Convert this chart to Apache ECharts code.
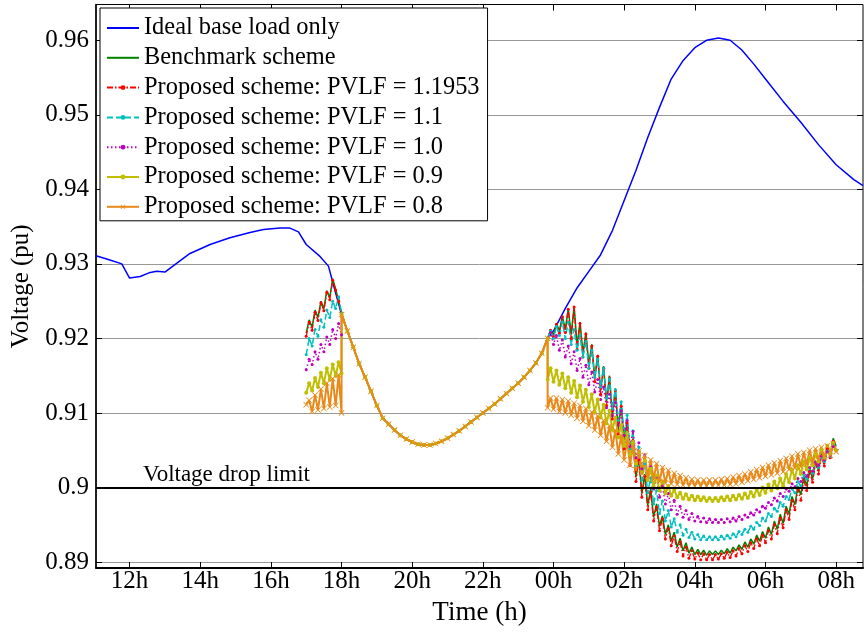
<!DOCTYPE html>
<html><head><meta charset="utf-8">
<script src="https://cdn.jsdelivr.net/npm/echarts@6/dist/echarts.min.js"></script>
<style>html,body{margin:0;padding:0;background:#fff}#c{width:864px;height:632px}</style>
</head><body><div id="c"></div><script>
// ---------- DATA ----------
const seriesNames = ['Ideal base load only','Benchmark scheme','Proposed scheme: PVLF = 1.1953','Proposed scheme: PVLF = 1.1','Proposed scheme: PVLF = 1.0','Proposed scheme: PVLF = 0.9','Proposed scheme: PVLF = 0.8'];
const xTicks = [12,14,16,18,20,22,24,26,28,30,32];
const yTicks = [0.89,0.90,0.91,0.92,0.93,0.94,0.95,0.96];

// Ideal base load: daytime part (hours) and values
const blueDayT = [11.05,11.4,11.78,12.0,12.3,12.55,12.77,13.0,13.34,13.71,14.28,14.84,15.41,15.79,16.26,16.54,16.78,17.0,17.39,17.63,17.77];
const blueDayV = [0.9311,0.9306,0.9300,0.9281,0.9283,0.9288,0.9290,0.9289,0.9301,0.9314,0.9326,0.9335,0.9342,0.9346,0.9348,0.9348,0.9343,0.9326,0.9310,0.9297,0.9272];
// Shared curve 18:00 - 23:50 (10-minute steps)
const commonV = [0.9232,0.9210,0.9188,0.9166,0.9148,0.9129,0.9110,0.9093,0.9085,0.9077,0.9070,0.9065,0.9061,0.9058,0.9057,0.9057,0.9059,0.9062,0.9066,0.9071,0.9076,0.9082,0.9088,0.9094,0.9100,0.9106,0.9112,0.9119,0.9126,0.9133,0.9140,0.9148,0.9157,0.9167,0.9180,0.9200];
// Ideal base load: night part
const blueNightT = [24.0,24.33,24.67,25.0,25.33,25.67,26.0,26.33,26.67,27.0,27.33,27.67,28.0,28.33,28.67,29.0,29.33,29.67,30.0,30.5,31.0,31.5,32.0,32.5,32.76];
const blueNightV = [0.9210,0.9240,0.9268,0.9290,0.9312,0.9345,0.9385,0.9425,0.9470,0.9510,0.9548,0.9573,0.9590,0.9600,0.9603,0.9600,0.9587,0.9568,0.9548,0.9518,0.9490,0.9460,0.9433,0.9413,0.9405];

// Evening window 17:00-18:00 (5-minute steps)
const eveGreen   = [0.9207,0.9225,0.9215,0.9238,0.9228,0.9250,0.9240,0.9264,0.9255,0.9280,0.9266,0.9250,0.9234];
const eveRed     = [0.9203,0.9222,0.9211,0.9235,0.9224,0.9248,0.9237,0.9262,0.9252,0.9278,0.9265,0.9250,0.9234];
const eveCyan    = [0.9178,0.9200,0.9190,0.9212,0.9203,0.9225,0.9215,0.9238,0.9228,0.9250,0.9240,0.9256,0.9234];
const eveMagenta = [0.9158,0.9172,0.9165,0.9182,0.9172,0.9192,0.9182,0.9202,0.9192,0.9212,0.9200,0.9220,0.9205];
const eveYellow  = [0.9127,0.9140,0.9130,0.9147,0.9135,0.9154,0.9140,0.9160,0.9145,0.9165,0.9150,0.9168,0.9153];
const eveOrange  = [0.9111,0.9117,0.9102,0.9124,0.9104,0.9132,0.9106,0.9140,0.9108,0.9146,0.9110,0.9151,0.9100];

// Night window: lows every 10 min from 23:50, highs 5 min later
const greenLo = [0.9200,0.9204,0.9210,0.9212,0.9205,0.9190,0.9180,0.9165,0.9147,0.9130,0.9115,0.9097,0.9078,0.9058,0.9036,0.9014,0.8992,0.8976,0.8960,0.8948,0.8937,0.8928,0.8920,0.8915,0.8912,0.8910,0.8910,0.8909,0.8910,0.8910,0.8911,0.8912,0.8915,0.8917,0.8920,0.8924,0.8928,0.8932,0.8937,0.8944,0.8952,0.8964,0.8977,0.8990,0.9002,0.9012,0.9022,0.9033,0.9044,0.9055];
const greenHi = [0.9212,0.9220,0.9230,0.9240,0.9243,0.9222,0.9208,0.9192,0.9178,0.9163,0.9150,0.9133,0.9112,0.9090,0.9066,0.9040,0.9018,0.8998,0.8978,0.8962,0.8950,0.8940,0.8932,0.8926,0.8920,0.8917,0.8916,0.8915,0.8915,0.8916,0.8918,0.8920,0.8923,0.8927,0.8931,0.8936,0.8941,0.8947,0.8955,0.8964,0.8975,0.8988,0.9002,0.9015,0.9026,0.9036,0.9046,0.9056,0.9066];
const redLo = [0.9200,0.9202,0.9207,0.9208,0.9200,0.9185,0.9175,0.9160,0.9142,0.9125,0.9110,0.9092,0.9072,0.9052,0.9030,0.9008,0.8987,0.8970,0.8955,0.8942,0.8931,0.8922,0.8914,0.8908,0.8905,0.8904,0.8903,0.8903,0.8903,0.8904,0.8905,0.8906,0.8908,0.8911,0.8914,0.8918,0.8922,0.8926,0.8931,0.8938,0.8946,0.8957,0.8970,0.8983,0.8996,0.9007,0.9018,0.9029,0.9040,0.9050];
const redHi = [0.9211,0.9219,0.9229,0.9239,0.9242,0.9220,0.9206,0.9190,0.9176,0.9160,0.9147,0.9130,0.9109,0.9087,0.9063,0.9037,0.9015,0.8994,0.8974,0.8958,0.8945,0.8935,0.8927,0.8920,0.8915,0.8912,0.8911,0.8910,0.8910,0.8911,0.8913,0.8915,0.8918,0.8922,0.8926,0.8931,0.8936,0.8942,0.8950,0.8959,0.8970,0.8983,0.8997,0.9010,0.9021,0.9032,0.9042,0.9052,0.9062];
const cyanLo = [0.9200,0.9200,0.9204,0.9200,0.9192,0.9184,0.9175,0.9160,0.9148,0.9135,0.9120,0.9106,0.9090,0.9072,0.9052,0.9030,0.9010,0.8993,0.8978,0.8965,0.8955,0.8947,0.8940,0.8936,0.8933,0.8931,0.8930,0.8930,0.8930,0.8930,0.8931,0.8932,0.8934,0.8937,0.8940,0.8944,0.8949,0.8955,0.8961,0.8968,0.8975,0.8984,0.8993,0.9002,0.9011,0.9019,0.9027,0.9035,0.9042,0.9050];
const cyanHi = [0.9210,0.9216,0.9222,0.9222,0.9212,0.9204,0.9196,0.9184,0.9172,0.9160,0.9146,0.9131,0.9115,0.9097,0.9076,0.9054,0.9032,0.9013,0.8996,0.8982,0.8969,0.8958,0.8950,0.8944,0.8940,0.8937,0.8935,0.8934,0.8934,0.8935,0.8936,0.8938,0.8941,0.8944,0.8948,0.8953,0.8959,0.8965,0.8972,0.8980,0.8988,0.8998,0.9008,0.9017,0.9026,0.9034,0.9041,0.9049,0.9058];
const magentaLo = [0.9200,0.9192,0.9184,0.9175,0.9166,0.9157,0.9148,0.9138,0.9128,0.9118,0.9107,0.9096,0.9084,0.9070,0.9055,0.9040,0.9025,0.9010,0.8998,0.8987,0.8978,0.8970,0.8964,0.8960,0.8957,0.8955,0.8954,0.8953,0.8953,0.8953,0.8953,0.8954,0.8955,0.8957,0.8960,0.8963,0.8967,0.8972,0.8977,0.8982,0.8988,0.8995,0.9001,0.9008,0.9015,0.9022,0.9030,0.9037,0.9043,0.9050];
const magentaHi = [0.9208,0.9204,0.9198,0.9190,0.9182,0.9173,0.9164,0.9155,0.9145,0.9135,0.9125,0.9114,0.9103,0.9090,0.9075,0.9060,0.9044,0.9028,0.9014,0.9002,0.8992,0.8983,0.8975,0.8969,0.8965,0.8961,0.8959,0.8958,0.8957,0.8957,0.8958,0.8959,0.8961,0.8963,0.8966,0.8970,0.8975,0.8980,0.8986,0.8992,0.8998,0.9005,0.9012,0.9020,0.9027,0.9034,0.9042,0.9048,0.9055];
const yellowLo = [0.9145,0.9142,0.9138,0.9133,0.9127,0.9121,0.9115,0.9108,0.9101,0.9094,0.9086,0.9077,0.9067,0.9056,0.9044,0.9032,0.9020,0.9010,0.9002,0.8996,0.8992,0.8989,0.8987,0.8985,0.8984,0.8983,0.8983,0.8982,0.8982,0.8982,0.8983,0.8983,0.8984,0.8985,0.8986,0.8988,0.8990,0.8993,0.8996,0.8999,0.9002,0.9007,0.9012,0.9018,0.9024,0.9030,0.9035,0.9040,0.9045,0.9050];
const yellowHi = [0.9160,0.9157,0.9153,0.9148,0.9143,0.9137,0.9131,0.9125,0.9118,0.9111,0.9103,0.9094,0.9084,0.9073,0.9061,0.9048,0.9036,0.9025,0.9016,0.9008,0.9002,0.8997,0.8993,0.8991,0.8989,0.8988,0.8987,0.8986,0.8986,0.8987,0.8988,0.8989,0.8990,0.8992,0.8994,0.8997,0.9000,0.9004,0.9008,0.9012,0.9018,0.9024,0.9030,0.9035,0.9040,0.9045,0.9051,0.9056,0.9060];
const orangeLo = [0.9107,0.9105,0.9102,0.9100,0.9097,0.9093,0.9089,0.9083,0.9077,0.9070,0.9062,0.9054,0.9045,0.9037,0.9030,0.9024,0.9019,0.9015,0.9011,0.9008,0.9006,0.9005,0.9004,0.9003,0.9002,0.9002,0.9002,0.9002,0.9002,0.9003,0.9003,0.9004,0.9005,0.9007,0.9009,0.9011,0.9013,0.9015,0.9017,0.9019,0.9021,0.9024,0.9026,0.9028,0.9031,0.9034,0.9037,0.9040,0.9043,0.9048];
const orangeHi = [0.9120,0.9120,0.9118,0.9116,0.9113,0.9110,0.9106,0.9101,0.9096,0.9090,0.9083,0.9077,0.9070,0.9063,0.9056,0.9049,0.9043,0.9037,0.9032,0.9027,0.9023,0.9019,0.9016,0.9013,0.9011,0.9010,0.9010,0.9010,0.9010,0.9011,0.9012,0.9014,0.9016,0.9018,0.9021,0.9024,0.9027,0.9030,0.9033,0.9036,0.9039,0.9042,0.9045,0.9047,0.9050,0.9052,0.9054,0.9056,0.9058];
const limitValue = 0.9;

// ---------- TIME GRIDS ----------
const eveningT = []; for (let i = 0; i < eveGreen.length; i++) eveningT.push(17 + i * 5 / 60);
const commonT = []; for (let i = 0; i < commonV.length; i++) commonT.push(18 + i * 10 / 60);
const nightLoT = []; for (let k = 0; k < greenLo.length; k++) nightLoT.push(23 + 50 / 60 + k * 10 / 60);
const nightHiT = nightLoT.slice(0, greenHi.length).map(t => t + 5 / 60);

function pairs(ts, vs) { return vs.map((v, i) => [ts[i], v]); }
function nightPairs(lo, hi) {
  const out = [];
  for (let k = 0; k < lo.length; k++) { out.push([nightLoT[k], lo[k]]); if (k < hi.length) out.push([nightHiT[k], hi[k]]); }
  return out;
}
function scheme(ev, lo, hi) { return [].concat(pairs(eveningT, ev), pairs(commonT, commonV), nightPairs(lo, hi)); }

const FONT = 'Liberation Serif';
const crossPath = 'path://M0,1L1,0L5,4L9,0L10,1L6,5L10,9L9,10L5,6L1,10L0,9L4,5Z';

const chart = echarts.init(document.getElementById('c'), null, { renderer: 'canvas' });
function base(name, color, data, extra) {
  return Object.assign({
    name, type: 'line', data, animation: false, silent: true,
    symbol: 'none', showSymbol: false,
    lineStyle: { color, width: 1.5 }, itemStyle: { color },
    emphasis: { disabled: true }
  }, extra || {});
}
const hourFmt = v => String(Math.round(v) % 24).padStart(2, '0') + 'h';
const legendData = seriesNames.map((n, i) => i < 2 ? { name: n, itemStyle: { opacity: 0 } } : { name: n });

chart.setOption({
  animation: false,
  backgroundColor: '#fff',
  grid: { left: 96, right: 1, top: 4.5, bottom: 64, show: true, borderColor: '#000', borderWidth: 1, containLabel: false },
  legend: {
    left: 100, top: 8, orient: 'vertical', selectedMode: false,
    backgroundColor: '#fff', borderColor: '#000', borderWidth: 1, borderRadius: 0,
    padding: [8, 8, 2, 6], itemGap: 5.8, itemWidth: 32, itemHeight: 6,
    textStyle: { fontFamily: FONT, fontSize: 24.4, color: '#000', lineHeight: 24 },
    data: legendData
  },
  xAxis: [{
    type: 'value', min: 11.05, max: 32.76, position: 'bottom',
    axisLine: { show: true, onZero: false, lineStyle: { color: '#000', width: 2 } },
    axisTick: { show: true, inside: true, length: 6, customValues: xTicks, lineStyle: { color: '#000' } },
    axisLabel: { customValues: xTicks, formatter: hourFmt, fontFamily: FONT, fontSize: 25, color: '#000', margin: 1 },
    splitLine: { show: false },
    name: 'Time (h)', nameLocation: 'middle', nameGap: 31,
    nameTextStyle: { fontFamily: FONT, fontSize: 27, color: '#000' }
  }, {
    type: 'value', min: 11.05, max: 32.76, position: 'top',
    axisLine: { show: false }, axisLabel: { show: false }, splitLine: { show: false },
    axisTick: { show: true, inside: true, length: 6, customValues: xTicks, lineStyle: { color: '#000' } }
  }],
  yAxis: [{
    type: 'value', min: 0.8892, max: 0.9648, position: 'left',
    axisLine: { show: true, onZero: false, lineStyle: { color: '#000', width: 1.5 } },
    axisTick: { show: true, inside: true, length: 6, customValues: yTicks, lineStyle: { color: '#000' } },
    axisLabel: { customValues: yTicks, formatter: v => String(parseFloat(v.toFixed(2))), fontFamily: FONT, fontSize: 25, color: '#000', margin: 7 },
    splitLine: { show: true, lineStyle: { color: '#999999', width: 1 } },
    name: 'Voltage (pu)', nameLocation: 'middle', nameGap: 60, nameRotate: 90,
    nameTextStyle: { fontFamily: FONT, fontSize: 25, color: '#000' }
  }, {
    type: 'value', min: 0.8892, max: 0.9648, position: 'right',
    axisLine: { show: false }, axisLabel: { show: false }, splitLine: { show: false },
    axisTick: { show: true, inside: true, length: 6, customValues: yTicks, lineStyle: { color: '#000' } }
  }],
  series: [
    base(seriesNames[0], '#0000ff', [].concat(pairs(blueDayT, blueDayV), pairs(commonT, commonV), pairs(blueNightT, blueNightV)), {
      markLine: { silent: true, symbol: 'none', label: { show: false }, lineStyle: { color: '#000', width: 2, type: 'solid' }, data: [{ yAxis: limitValue }] }
    }),
    base(seriesNames[1], '#008000', scheme(eveGreen, greenLo, greenHi)),
    base(seriesNames[2], '#ff0000', scheme(eveRed, redLo, redHi), { symbol: 'circle', showSymbol: true, symbolSize: 3, lineStyle: { color: '#ff0000', width: 1.3, type: [6, 2, 1.5, 2] } }),
    base(seriesNames[3], '#00bfbf', scheme(eveCyan, cyanLo, cyanHi), { symbol: 'circle', showSymbol: true, symbolSize: 3, lineStyle: { color: '#00bfbf', width: 1.5, type: [6, 3] } }),
    base(seriesNames[4], '#bf00bf', scheme(eveMagenta, magentaLo, magentaHi), { symbol: 'circle', showSymbol: true, symbolSize: 3, lineStyle: { color: '#bf00bf', width: 1.5, type: [1.5, 2.5] } }),
    base(seriesNames[5], '#bfbf00', scheme(eveYellow, yellowLo, yellowHi), { symbol: 'circle', showSymbol: true, symbolSize: 4, lineStyle: { color: '#bfbf00', width: 2 } }),
    base(seriesNames[6], '#e8891a', scheme(eveOrange, orangeLo, orangeHi), { symbol: crossPath, showSymbol: true, symbolSize: 6, lineStyle: { color: '#e8891a', width: 2 } })
  ]
});

const p = chart.convertToPixel({ xAxisIndex: 0, yAxisIndex: 0 }, [12.38, limitValue]);
chart.setOption({
  graphic: [{
    type: 'text', x: p[0], y: p[1] - 13, silent: true,
    style: { text: 'Voltage drop limit', font: '23px "Liberation Serif"', fill: '#000', align: 'left', verticalAlign: 'middle' }
  }]
});
</script></body></html>
